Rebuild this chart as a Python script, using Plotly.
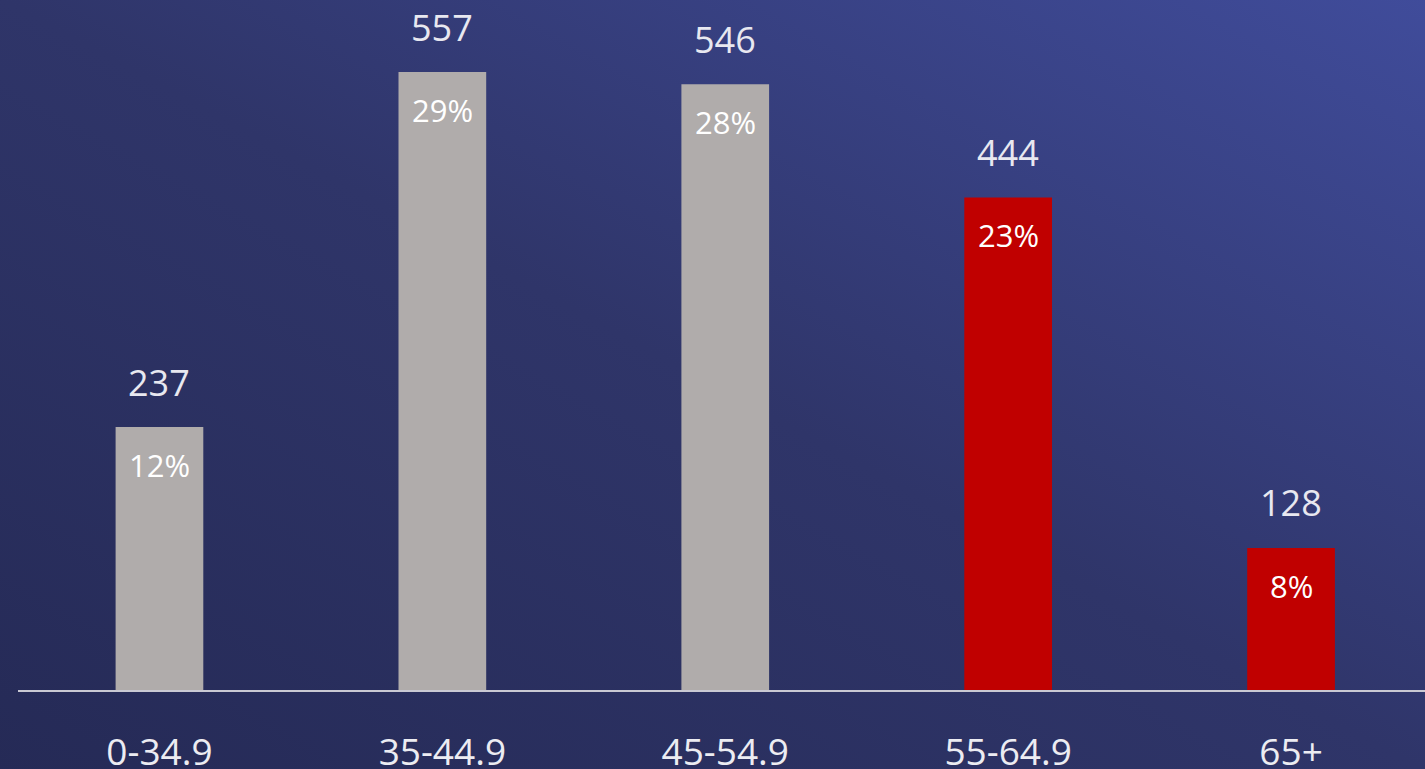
import base64
import plotly.graph_objects as go

categories = ["0-34.9", "35-44.9", "45-54.9", "55-64.9", "65+"]
counts = [237, 557, 546, 444, 128]
percent_labels = ["12%", "29%", "28%", "23%", "8%"]
bar_colors = ["#b0acab", "#b0acab", "#b0acab", "#c00000", "#c00000"]

W, H = 1425, 769
ML, MB = 17.5, 79
PW, PH = W - ML, H - MB
PAD = 4  # extra pixels so the background image fully covers the page

svg = f'''<svg xmlns="http://www.w3.org/2000/svg" width="{W}" height="{H}" viewBox="0 0 {W} {H}" preserveAspectRatio="none">
<defs><linearGradient id="g" x1="0" y1="1" x2="1" y2="0">
<stop offset="0" stop-color="#252a56"/>
<stop offset="0.5" stop-color="#2f3569"/>
<stop offset="1" stop-color="#404c9b"/>
</linearGradient></defs>
<rect width="{W}" height="{H}" fill="url(#g)"/></svg>'''
bg_uri = "data:image/svg+xml;base64," + base64.b64encode(svg.encode()).decode()

fig = go.Figure()
fig.add_trace(go.Bar(
    x=categories, y=counts, marker=dict(color=bar_colors, line=dict(width=0)),
    width=0.31, hoverinfo="skip",
))

annotations = []
for c, v, p in zip(categories, counts, percent_labels):
    annotations.append(dict(x=c, y=v, text=str(v), showarrow=False, yshift=45,
                            font=dict(family="Open Sans", size=36, color="#e8e8f0"),
                            xanchor="center", yanchor="middle"))
    annotations.append(dict(x=c, y=v, text=p, showarrow=False, yshift=-38,
                            font=dict(family="Open Sans", size=31, color="#ffffff"),
                            xanchor="center", yanchor="middle"))

fig.update_layout(
    width=W, height=H,
    margin=dict(l=ML, r=0, t=0, b=MB, pad=0, autoexpand=False),
    paper_bgcolor="#2a3060", plot_bgcolor="rgba(0,0,0,0)",
    showlegend=False,
    annotations=annotations,
    images=[dict(source=bg_uri, xref="paper", yref="paper",
                 x=-(ML + PAD) / PW, y=1 + PAD / PH,
                 sizex=(W + 2 * PAD) / PW, sizey=(H + 2 * PAD) / PH,
                 xanchor="left", yanchor="top", sizing="stretch", layer="below")],
    xaxis=dict(range=[-0.5, -0.5 + PW / 283.0], showgrid=False, zeroline=False,
               showline=True, linecolor="#c9c9d3", linewidth=2, automargin=False,
               ticks="", tickfont=dict(family="Open Sans", size=37, color="#ececf2"),
               ticklabelstandoff=29, fixedrange=True),
    yaxis=dict(range=[0, PH / 1.1095], showgrid=False, zeroline=False, automargin=False,
               showticklabels=False, showline=False, fixedrange=True),
)

fig.write_html("out.html", config={"displayModeBar": False},
               post_script="document.body.style.margin='0';document.body.style.overflow='hidden';")
